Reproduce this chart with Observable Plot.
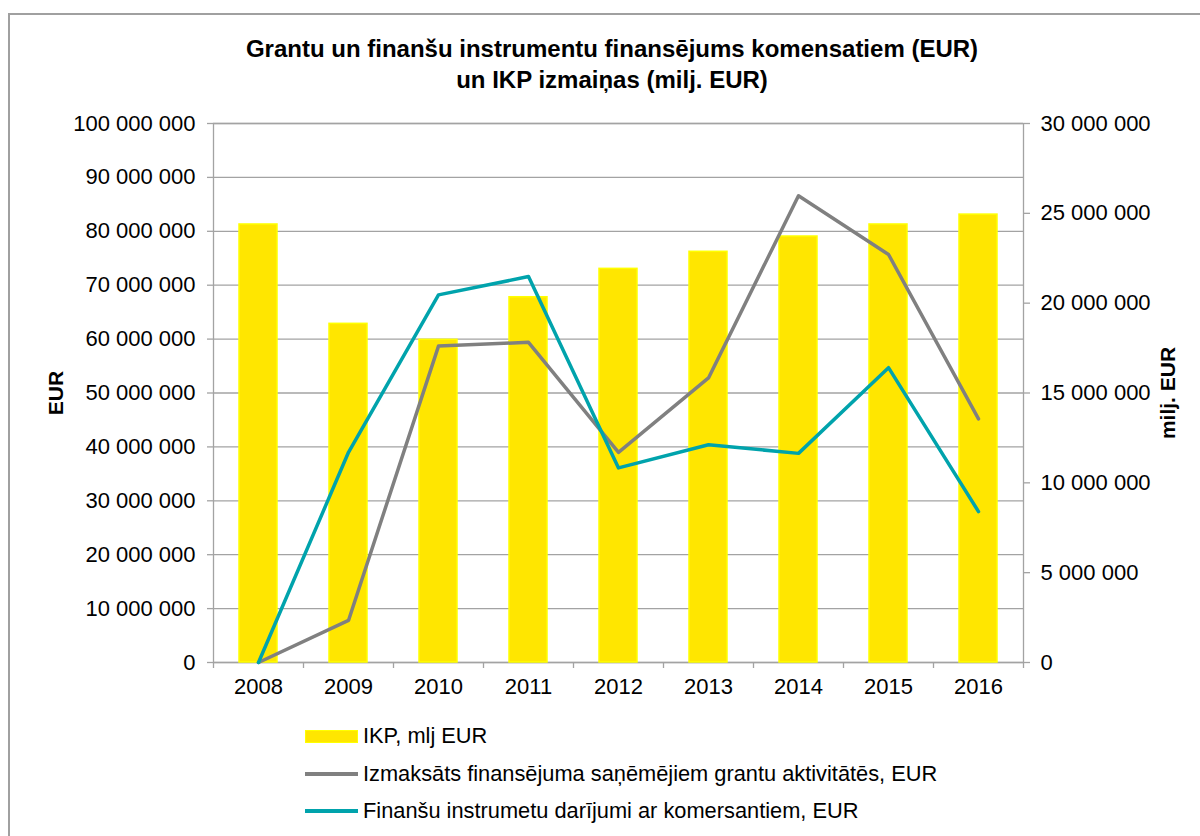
<!DOCTYPE html>
<html>
<head>
<meta charset="utf-8">
<script src="https://cdn.jsdelivr.net/npm/d3@7"></script>
<script src="https://cdn.jsdelivr.net/npm/@observablehq/plot@0.6"></script>
<style>
  body { margin: 0; background: #fff; font-family: "Liberation Sans", Arial, sans-serif; }
  #wrap { position: relative; width: 1200px; height: 836px; overflow: hidden; background: #fff; }
  #border { position: absolute; left: 8px; top: 13px; width: 1300px; height: 1000px; border: 2px solid #a0a0a0; }
  #title { position: absolute; top: 33px; left: 112px; width: 1000px; text-align: center; font-weight: bold; font-size: 24px; line-height: 31px; color: #000; }
  #chart { position: absolute; top: 100px; left: 0; }
  #legend { position: absolute; left: 305px; top: 724px; font-size: 21.8px; color: #000; }
  .row { display: flex; align-items: center; height: 24px; margin-bottom: 13.5px; white-space: nowrap; }
  .sw { width: 53px; margin-right: 5px; box-sizing: border-box; }
</style>
</head>
<body>
<div id="wrap">
  <div id="border"></div>
  <div id="title"></div>
  <div id="chart"></div>
  <div id="legend"></div>
</div>
<script>
// ---- data ----
const years = ["2008", "2009", "2010", "2011", "2012", "2013", "2014", "2015", "2016"];
// IKP (right axis, "milj. EUR")
const gdp = [24380000, 18850000, 17960000, 20330000, 21910000, 22860000, 23710000, 24380000, 24930000];
// Izmaksāts finansējuma saņēmējiem grantu aktivitātēs, EUR (left axis)
const grants = [0, 7800000, 58700000, 59400000, 39000000, 52800000, 86600000, 75700000, 45200000];
// Finanšu instrumetu darījumi ar komersantiem, EUR (left axis)
const instruments = [0, 39000000, 68200000, 71600000, 36100000, 40400000, 38800000, 54700000, 28000000];
const leftTicks = [0, 10000000, 20000000, 30000000, 40000000, 50000000, 60000000, 70000000, 80000000, 90000000, 100000000];
const rightTicks = [0, 5000000, 10000000, 15000000, 20000000, 25000000, 30000000];
const seriesNames = ["IKP, mlj EUR", "Izmaksāts finansējuma saņēmējiem grantu aktivitātēs, EUR", "Finanšu instrumetu darījumi ar komersantiem, EUR"];
const seriesColors = ["#FFE600", "#808080", "#00A3AC"];
const titleLines = ["Grantu un finanšu instrumentu finansējums komensatiem (EUR)", "un IKP izmaiņas (milj. EUR)"];
const leftTitle = "EUR";
const rightTitle = "milj. EUR";

// ---- layout ----
const W = 1200, H = 620, mL = 213, mR = 177, mT = 23, mB = 58;
const bw = (W - mL - mR) / years.length;
const gridColor = "#a3a3a3";
const font = '"Liberation Sans", Arial, sans-serif';
const ratio = d3.max(leftTicks) / d3.max(rightTicks);
const fmt = d3.formatLocale({decimal: ",", thousands: " ", grouping: [3], currency: ["", ""]}).format(",d");

const rows = years.map((year, i) => ({year, gdp: gdp[i], grants: grants[i], instruments: instruments[i]}));

document.getElementById("title").innerHTML = titleLines.map(t => `<div>${t}</div>`).join("");

const plot = Plot.plot({
  width: W, height: H,
  marginLeft: mL, marginRight: mR, marginTop: mT, marginBottom: mB,
  style: {fontFamily: font, fontSize: "22px", color: "#000", background: "transparent", overflow: "visible"},
  x: {type: "band", domain: years, padding: 0, axis: null},
  y: {domain: [0, d3.max(leftTicks)], axis: null},
  marks: [
    Plot.gridY({ticks: leftTicks, stroke: gridColor, strokeOpacity: 1, strokeWidth: 1.3}),
    Plot.frame({stroke: gridColor, strokeWidth: 1.3}),
    Plot.barY(rows, {x: "year", y: d => d.gdp * ratio, fill: seriesColors[0], stroke: "#FFFF00", strokeWidth: 1.5, insetLeft: 26, insetRight: 26}),
    Plot.line(rows, {x: "year", y: "grants", stroke: seriesColors[1], strokeWidth: 3.5}),
    Plot.line(rows, {x: "year", y: "instruments", stroke: seriesColors[2], strokeWidth: 3.5}),
    Plot.axisY({anchor: "left", ticks: leftTicks, tickFormat: fmt, tickSize: 6, tickPadding: 12, stroke: gridColor, strokeWidth: 1.3, fill: "#000", label: null}),
    Plot.axisY({anchor: "right", ticks: rightTicks.map(v => v * ratio), tickFormat: v => fmt(Math.round(v / ratio)), tickSize: 6, tickPadding: 11, stroke: gridColor, strokeWidth: 1.3, fill: "#000", label: null}),
    Plot.axisX({anchor: "bottom", ticks: years, tickSize: 0, tickPadding: 16, fill: "#000", label: null}),
    Plot.axisX({anchor: "bottom", ticks: years, tickSize: 6, tickFormat: () => "", dx: bw / 2, stroke: gridColor, strokeWidth: 1.3, label: null}),
    Plot.axisX({anchor: "bottom", ticks: [years[0]], tickSize: 6, tickFormat: () => "", dx: -bw / 2, stroke: gridColor, strokeWidth: 1.3, label: null}),
    Plot.text([leftTitle], {text: d => d, frameAnchor: "left", dx: -157, rotate: -90, textAnchor: "middle", fontWeight: "bold", fontSize: 21, fill: "#000", lineAnchor: "middle"}),
    Plot.text([rightTitle], {text: d => d, frameAnchor: "right", dx: 145, rotate: -90, textAnchor: "middle", fontWeight: "bold", fontSize: 21, fill: "#000", lineAnchor: "middle"})
  ]
});
document.getElementById("chart").appendChild(plot);

// ---- legend ----
const legend = document.getElementById("legend");
seriesNames.forEach((name, i) => {
  const row = document.createElement("div");
  row.className = "row";
  const sw = document.createElement("div");
  sw.className = "sw";
  if (i === 0) {
    sw.style.height = "13px";
    sw.style.background = seriesColors[0];
    sw.style.border = "1px solid #FFFF00";
  } else {
    sw.style.height = "4px";
    sw.style.background = seriesColors[i];
  }
  const label = document.createElement("span");
  label.textContent = name;
  row.appendChild(sw);
  row.appendChild(label);
  legend.appendChild(row);
});
</script>
</body>
</html>
